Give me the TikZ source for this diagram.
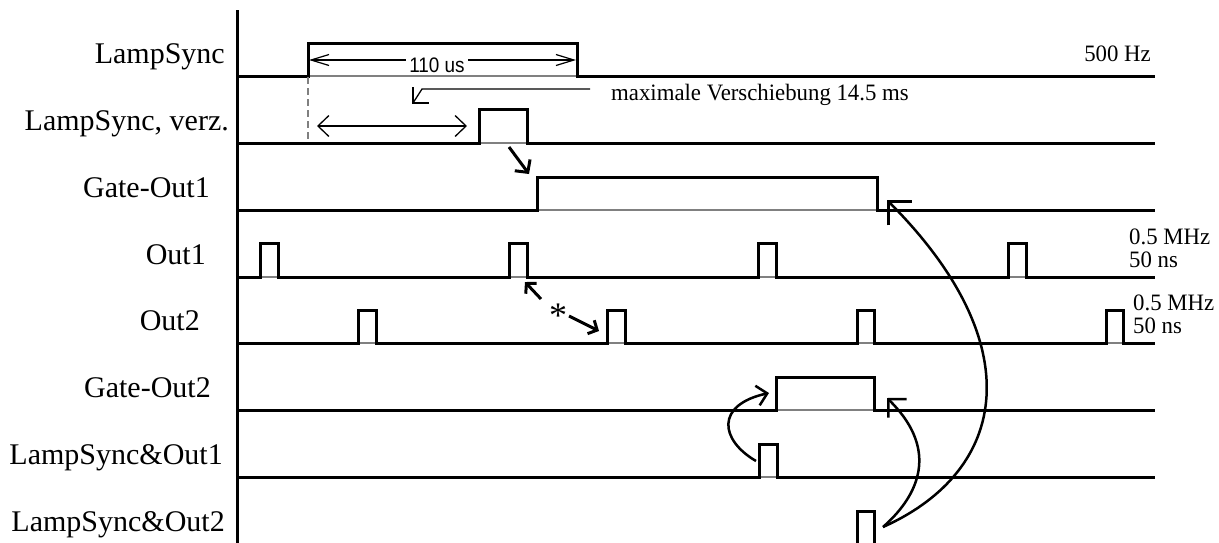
\documentclass[tikz,border=0pt]{standalone}
\usepackage{fontspec}
\setmainfont{Liberation Serif}
\newfontfamily\smallf{Liberation Serif}[FakeStretch=0.97]
\newfontfamily\arialf{Liberation Sans}[FakeStretch=0.9]
\usetikzlibrary{arrows.meta,calc}
\tikzset{
  wave/.style={line width=3pt, line join=miter, line cap=rect},
  baseln/.style={line width=1.2pt, gray},
  lab/.style={anchor=base east, inner sep=0pt, font=\fontsize{30}{32}\selectfont},
  small/.style={inner sep=0pt, font=\smallf\fontsize{23.5}{25}\selectfont},
  dimarrow/.style={line width=1.2pt, {Straight Barb[length=18pt,width=11pt]}-{Straight Barb[length=18pt,width=11pt]}},
  widearrow/.style={line width=1.3pt, {Straight Barb[length=11pt,width=21pt]}-{Straight Barb[length=11pt,width=21pt]}},
  thickarrow/.style={line width=3pt, -{Straight Barb[length=9pt,width=19pt]}},
  curvearrow/.style={line width=2.5pt, -{Straight Barb[length=#1pt,width=2*#1pt]}},
}
\begin{document}
\begin{tikzpicture}[x=1pt,y=-1pt]
\useasboundingbox (0,0) rectangle (1219,542);
% axis
\draw[line width=3pt] (237,10) -- (237,545);
% thin base lines
\foreach \yy in {76,143,210,277,343,410,477,544}
  \draw[baseln] (237,\yy) -- (1153,\yy);
% labels
\node[lab] (l1) at (225,63) {LampSync};
\node[lab] (l2) at (229,130) {LampSync, verz.};
\node[lab] (l3) at (210,197) {Gate-Out1};
\node[lab] (l4) at (206,264) {Out1};
\node[lab] (l5) at (200,330) {Out2};
\node[lab] (l6) at (211,397) {Gate-Out2};
\node[lab] (l7) at (223,464) {LampSync\&Out1};
\node[lab] (l8) at (225,531) {LampSync\&Out2};
% waveforms
\draw[wave] (237,76) -- (308,76) -- (308,43) -- (577,43) -- (577,76) -- (1153,76);
\draw[wave] (237,143) -- (479,143) -- (479,109) -- (527,109) -- (527,143) -- (1153,143);
\draw[wave] (237,210) -- (537,210) -- (537,177) -- (877,177) -- (877,210) -- (1153,210);
\draw[wave] (237,277)
  -- (260,277) -- (260,243) -- (278,243) -- (278,277)
  -- (509,277) -- (509,243) -- (527,243) -- (527,277)
  -- (758,277) -- (758,243) -- (776,243) -- (776,277)
  -- (1008,277) -- (1008,243) -- (1026,243) -- (1026,277) -- (1153,277);
\draw[wave] (237,343)
  -- (358,343) -- (358,310) -- (376,310) -- (376,343)
  -- (607,343) -- (607,310) -- (625,310) -- (625,343)
  -- (857,343) -- (857,310) -- (874,310) -- (874,343)
  -- (1106,343) -- (1106,310) -- (1123,310) -- (1123,343) -- (1153,343);
\draw[wave] (237,410) -- (776,410) -- (776,377) -- (874,377) -- (874,410) -- (1153,410);
\draw[wave] (237,477) -- (759,477) -- (759,444) -- (777,444) -- (777,477) -- (1153,477);
\draw[wave] (237,544) -- (857,544) -- (857,511) -- (874,511) -- (874,544) -- (1153,544);
% right-side texts
\node[small, anchor=base east] (hz) at (1151,61) {500 Hz};
\node[small, anchor=base west] (f1) at (1129,244) {0.5 MHz};
\node[small, anchor=base west] (w1) at (1129,267) {50 ns};
\node[small, anchor=base west] (f2) at (1133,310) {0.5 MHz};
\node[small, anchor=base west] (w2) at (1133,333) {50 ns};
\node[small, anchor=base west] (mv) at (611,100) {maximale Verschiebung 14.5 ms};
% 110 us dimension
\coordinate (d1) at (309,60);
\coordinate (d2) at (576,60);
\draw[dimarrow] (d1) -- (d2);
\node[fill=white, inner xsep=3pt, inner ysep=1pt, anchor=base, font=\arialf\fontsize{21}{22}\selectfont] (us) at (437,72) {110 us};
% dashed line
\coordinate (ds1) at (308,77);
\coordinate (ds2) at (308,140);
\draw[line width=1.2pt, gray, dash pattern=on 7pt off 4pt] (ds1) -- (ds2);
% shift arrow row 2
\coordinate (s1) at (317,126);
\coordinate (s2) at (467,126);
\draw[widearrow] (s1) -- (s2);
% maximale Verschiebung bent arrow
\coordinate (mA) at (590,89);
\coordinate (mB) at (422,89);
\coordinate (mT) at (413,103);
\draw[line width=1.3pt] (mA) -- (mB) -- (mT);
\draw[line width=1.3pt] ($(mT)+(0,-16)$) -- (mT) -- ($(mT)+(16,0)$);
% thick arrow verz -> Gate-Out1
\coordinate (a1) at (509,147);
\coordinate (a2) at (529,174);
\draw[thickarrow] (a1) -- (a2);
% star arrows
\coordinate (b1) at (541,299);
\coordinate (b2) at (525,282);
\draw[line width=3pt, -{Straight Barb[length=7pt,width=15pt]}] (b1) -- (b2);
\node[inner sep=0pt, anchor=base, font=\fontsize{36}{36}\selectfont] (st) at (558,327) {*};
\coordinate (c1) at (569,316);
\coordinate (c2) at (599,331);
\draw[line width=3pt, -{Straight Barb[length=7pt,width=15pt]}] (c1) -- (c2);
% curved arrows
\coordinate (e0) at (883,527);
\coordinate (e1) at (887,200);
\coordinate (e2) at (887,398);
\draw[curvearrow=17] (e0) .. controls (1010,470) and (1030,343) .. (e1);
\draw[curvearrow=13] (e0) .. controls (925,490) and (935,445) .. (e2);
\coordinate (g0) at (756,461);
\coordinate (g1) at (769,393);
\draw[curvearrow=10] (g0) .. controls (720,440) and (715,405) .. (g1);
\end{tikzpicture}
\end{document}
